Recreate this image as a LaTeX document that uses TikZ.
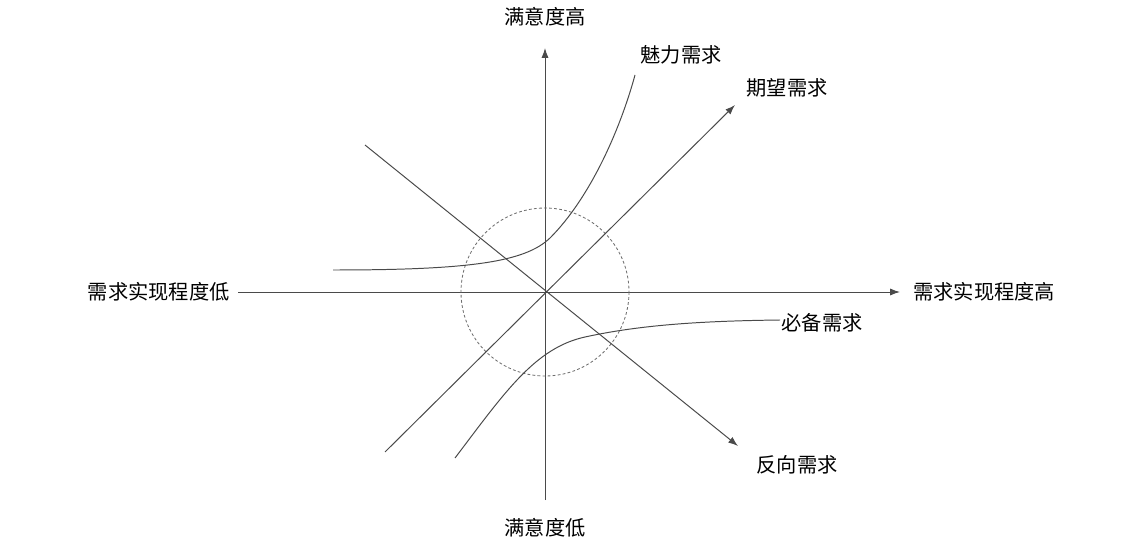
\documentclass[tikz,border=0pt]{standalone}
\usepackage{fontspec}
\newfontfamily\cjk{Noto Sans CJK SC}
\usetikzlibrary{arrows.meta,positioning}
\definecolor{ink}{HTML}{4A4A4A}
\definecolor{zoneline}{HTML}{6E6E6E}
\tikzset{
  >={Latex[length=7pt,width=5pt]},
  every node/.style={font=\cjk\fontsize{14.4}{16}\selectfont,text=black,inner sep=0pt},
  axisline/.style={->,draw=ink,line width=0.7pt},
  needline/.style={draw=ink,line width=0.7pt},
  needarrow/.style={needline,->},
  zone/.style={draw=zoneline,dash pattern=on 2pt off 1.6pt,line width=0.6pt},
}

\begin{document}
\begin{tikzpicture}[x=0.025cm,y=-0.025cm]
  \useasboundingbox (0,0) rectangle (1144,544);

  % axes
  \coordinate (o) at (545,292);
  \coordinate (xlo) at (238,292);
  \coordinate (xhi) at (900,292);
  \coordinate (ylo) at (545,500);
  \coordinate (yhi) at (545,48);
  \draw[axisline] (xlo) -- (xhi);
  \draw[axisline] (ylo) -- (yhi);
  \node[anchor=east] (xlolbl) at (230,292) {需求实现程度低};
  \node[anchor=west] (xhilbl) at (913,292) {需求实现程度高};
  \node (yhilbl) at (545,17) {满意度高};
  \node (ylolbl) at (545,528) {满意度低};

  % indifference zone
  \draw[zone] (o) circle (84);

  % one-dimensional and reverse needs
  \coordinate (expstart) at (385,452);
  \coordinate (expend) at (735,105);
  \coordinate (revstart) at (365,145);
  \coordinate (revend) at (738,446);
  \draw[needarrow] (expstart) -- (expend);
  \draw[needarrow] (revstart) -- (revend);
  \node (explbl) at (787,88) {期望需求};
  \node (revlbl) at (797,465) {反向需求};

  % attractive and must-be needs
  \coordinate (attstart) at (333,270);
  \coordinate (attmid) at (550,238);
  \coordinate (attend) at (635,75);
  \draw[needline] (attstart) .. controls (470,270) and (525,262) .. (attmid)
    .. controls (590,198) and (620,130) .. (attend);
  \node (attlbl) at (681,55) {魅力需求};

  \coordinate (muststart) at (455,458);
  \coordinate (mustmid) at (585,337);
  \coordinate (mustend) at (780,320);
  \draw[needline] (muststart) .. controls (505,392) and (535,348) .. (mustmid)
    .. controls (640,325) and (700,321) .. (mustend);
  \node (mustlbl) at (822,323) {必备需求};
\end{tikzpicture}
\end{document}
